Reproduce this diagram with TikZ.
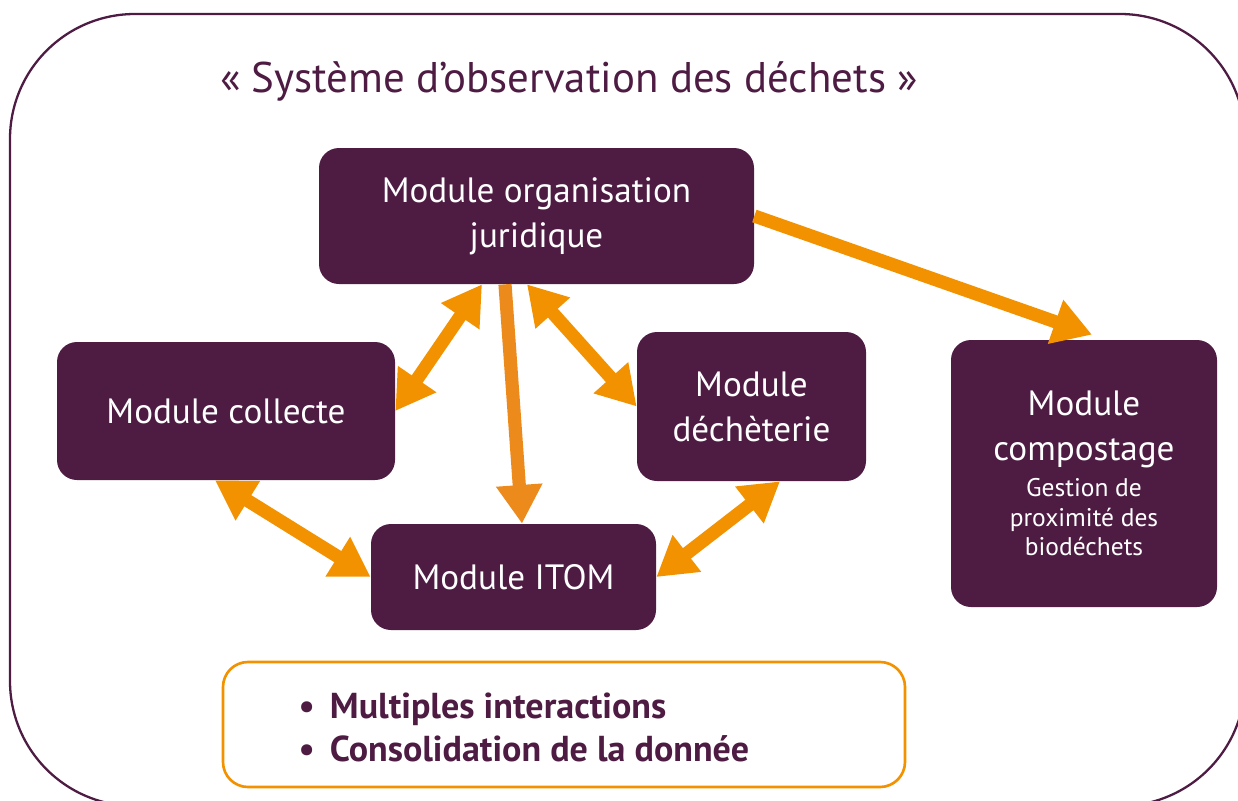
\documentclass[tikz,border=0pt]{standalone}
\usepackage{fontspec}
\setmainfont{PT Sans}
\usetikzlibrary{arrows.meta}
\definecolor{prune}{RGB}{78,27,67}
\definecolor{orangeclair}{RGB}{243,146,0}
\definecolor{orangefonce}{RGB}{236,138,28}
\newcommand{\petit}{\fontsize{14.5}{17}\selectfont}

\begin{document}
\begin{tikzpicture}[
    module/.style={fill=prune, text=white, rounded corners=0.4cm, align=center,
        inner sep=0pt, font=\fontsize{20}{25.5}\selectfont},
    fleche/.style={draw=orangeclair, line width=7.5pt, -{Triangle[length=22pt,width=25pt]}},
    double fleche/.style={fleche, {Triangle[length=22pt,width=25pt]}-{Triangle[length=22pt,width=25pt]}}]
    \useasboundingbox (0,0) rectangle (24.76,-16.02);
    \draw[prune, line width=1.3pt, rounded corners=2.5cm] (0.2,-0.28) rectangle (24.9,-16.12);
    \node (titre) [text=prune, font=\fontsize{24.4}{28}\selectfont] at (11.38,-1.62)
        {« Système d’observation des déchets »};
    \node (jur) [module, minimum width=8.7cm, minimum height=2.72cm] at (10.73,-4.32)
        {Module organisation\\juridique};
    \node (col) [module, minimum width=6.76cm, minimum height=2.76cm] at (4.52,-8.22)
        {Module collecte};
    \node (dech) [module, minimum width=4.58cm, minimum height=2.98cm] at (15.03,-8.13)
        {Module\\déchèterie};
    \node (itom) [module, minimum width=5.7cm, minimum height=2.12cm] at (10.27,-11.54)
        {Module ITOM};
    \node (comp) [module, minimum width=5.32cm, minimum height=5.34cm] at (21.68,-9.47)
        {Module\\compostage\\[-5pt]{\petit Gestion de}\\[-8.5pt]{\petit proximité des}\\[-8.5pt]{\petit biodéchets}};
    \node (bilan) [draw=orangeclair, line width=1.5pt, rounded corners=0.5cm,
        minimum width=13.64cm, minimum height=2.5cm] at (11.28,-14.49) {};
    \node (liste) [anchor=west, text=prune, align=left, font=\fontsize{20.5}{24.5}\selectfont\bfseries]
        at (5.85,-14.55) {\textbullet\hspace{0.3cm}Multiples interactions\\\textbullet\hspace{0.3cm}Consolidation de la donnée};
    \draw[fleche] (jur.east) -- ([xshift=0.16cm,yshift=0.1cm]comp.north);
    \draw[double fleche] ([xshift=-1.09cm]jur.south) -- (col.east);
    \draw[double fleche] ([xshift=-0.19cm]jur.south) -- (dech.west);
    \draw[fleche, draw=orangefonce] ([xshift=-0.63cm]jur.south) -- ([xshift=0.17cm]itom.north);
    \draw[double fleche] ([xshift=-0.22cm]col.south) -- (itom.west);
    \draw[double fleche] ([xshift=0.57cm]dech.south) -- (itom.east);
\end{tikzpicture}
\end{document}
